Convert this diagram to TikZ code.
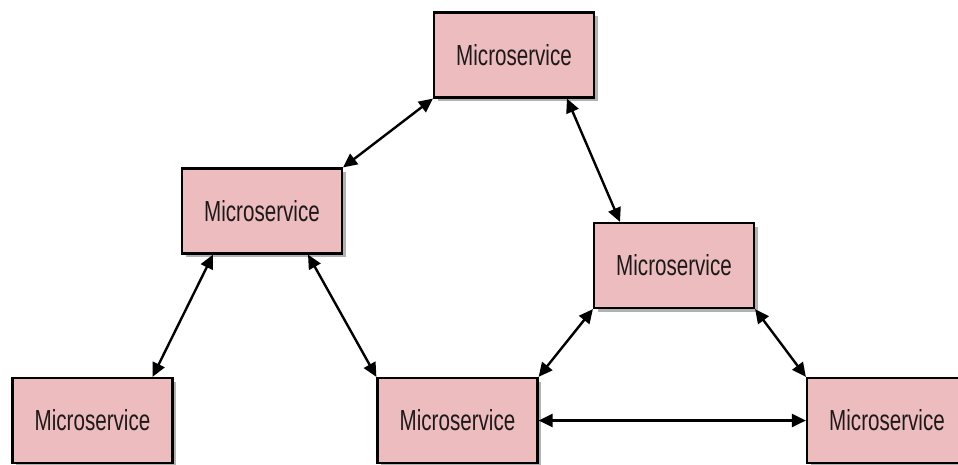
\documentclass[tikz,border=0pt]{standalone}
\usepackage{fontspec}
\setmainfont{Liberation Sans}[FakeStretch=0.71]
\usetikzlibrary{arrows.meta,shadows}
\definecolor{boxpink}{RGB}{236,188,191}
\definecolor{txtgray}{RGB}{30,25,25}
\tikzset{
  svc/.style={draw=black, line width=2.2pt, fill=boxpink, rectangle,
    minimum width=160pt, minimum height=85pt, inner sep=0pt,
    font=\fontsize{29}{32}\selectfont, text=txtgray,
    drop shadow={shadow xshift=3.5pt, shadow yshift=-3.5pt, opacity=0.3, fill=black}},
  link/.style={line width=2.4pt, {Triangle[length=14pt,width=13pt]}-{Triangle[length=14pt,width=13pt]}}
}
\begin{document}
\begin{tikzpicture}[x=1pt,y=1pt]
\useasboundingbox (0,0) rectangle (958,-464);
\node[svc] (top) at (514,-55) {Microservice};
\node[svc] (ml) at (262,-211) {Microservice};
\node[svc] (mr) at (674,-265.5) {Microservice};
\node[svc] (bl) at (92.5,-420.5) {Microservice};
\node[svc] (bm) at (457.5,-420.5) {Microservice};
\node[svc] (br) at (887,-420.5) {Microservice};
\draw[link] (top.south west) -- (ml.north east);
\draw[link] ([xshift=53pt]top.south) -- ([xshift=-54pt]mr.north);
\draw[link] ([xshift=-49pt]ml.south) -- ([xshift=60pt]bl.north);
\draw[link] ([xshift=46pt]ml.south) -- (bm.north west);
\draw[link] (mr.south west) -- (bm.north east);
\draw[link] (mr.south east) -- (br.north west);
\draw[link] (bm.east) -- (br.west);
\end{tikzpicture}
\end{document}
